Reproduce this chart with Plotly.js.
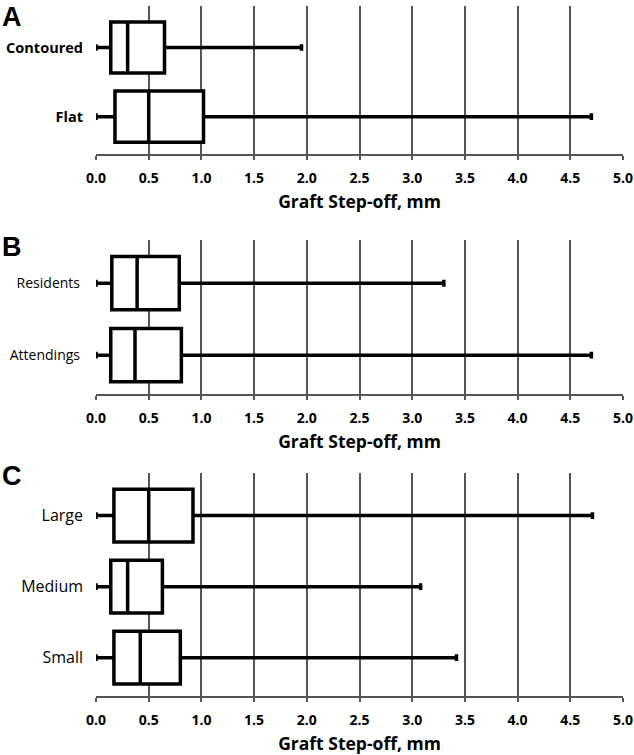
<!DOCTYPE html>
<html>
<head>
<meta charset="utf-8">
<script src="https://cdn.plot.ly/plotly-3.0.1.min.js"></script>
<style>
  html, body { margin: 0; padding: 0; background: #fff; }
  #chart { width: 634px; height: 755px; }
</style>
</head>
<body>
<div id="chart"></div>
<script>
// Graft step-off box plots, three panels (A: shape, B: surgeon, C: size)
var catsA = ['Contoured', 'Flat'];
var minA = [0.0, 0.0];
var q1A = [0.14, 0.18];
var medA = [0.30, 0.50];
var q3A = [0.65, 1.02];
var maxA = [1.95, 4.70];

var catsB = ['Residents', 'Attendings'];
var minB = [0.0, 0.0];
var q1B = [0.15, 0.14];
var medB = [0.39, 0.37];
var q3B = [0.79, 0.81];
var maxB = [3.30, 4.70];

var catsC = ['Large', 'Medium', 'Small'];
var minC = [0.0, 0.0, 0.0];
var q1C = [0.17, 0.14, 0.17];
var medC = [0.50, 0.30, 0.42];
var q3C = [0.92, 0.63, 0.80];
var maxC = [4.71, 3.08, 3.42];

var tickVals = [0, 0.5, 1, 1.5, 2, 2.5, 3, 3.5, 4, 4.5, 5];
var tickText = ['0.0', '0.5', '1.0', '1.5', '2.0', '2.5', '3.0', '3.5', '4.0', '4.5', '5.0'];

function boxTrace(cats, lo, q1, med, q3, hi, n) {
    return {
        type: 'box',
        orientation: 'h',
        y: cats,
        lowerfence: lo,
        q1: q1,
        median: med,
        q3: q3,
        upperfence: hi,
        xaxis: 'x' + n,
        yaxis: 'y' + n,
        width: 0.74,
        whiskerwidth: 0.13,
        fillcolor: 'white',
        line: { color: 'black', width: 3.5 },
        hoverinfo: 'skip',
        showlegend: false
    };
}

var data = [
    boxTrace(catsA, minA, q1A, medA, q3A, maxA, ''),
    boxTrace(catsB, minB, q1B, medB, q3B, maxB, '2'),
    boxTrace(catsC, minC, q1C, medC, q3C, maxC, '3')
];

function xAxis(anchor) {
    return {
        anchor: anchor,
        domain: [0, 1],
        range: [0, 5],
        tickvals: tickVals,
        ticktext: tickText,
        showgrid: true,
        gridcolor: '#555555',
        gridwidth: 2,
        zeroline: false,
        showline: true,
        linecolor: '#555555',
        linewidth: 2,
        ticks: 'outside',
        ticklen: 4,
        tickwidth: 2,
        tickcolor: '#555555',
        ticklabelstandoff: 6,
        tickfont: { family: 'Open Sans', size: 14, color: 'black', weight: 'bold' },
        title: {
            text: 'Graft Step-off, mm',
            font: { family: 'Open Sans', size: 17.5, color: 'black', weight: 'bold' },
            standoff: 10
        },
        fixedrange: true
    };
}

function yAxis(anchor, dom, n, fontSize, weight, gap) {
    return {
        anchor: anchor,
        domain: dom,
        type: 'category',
        range: [n - 1 + 0.54, -0.6],
        showgrid: false,
        zeroline: false,
        showline: false,
        ticks: '',
        ticklabelstandoff: gap,
        tickfont: { family: 'Open Sans', size: fontSize, color: 'black', weight: weight },
        fixedrange: true
    };
}

var layout = {
    width: 634,
    height: 755,
    margin: { l: 96, r: 11, t: 0, b: 0 },
    paper_bgcolor: 'white',
    plot_bgcolor: 'white',
    xaxis: xAxis('y'),
    yaxis: yAxis('x', [1 - 154 / 755, 1 - 6 / 755], catsA.length, 14.5, 'bold', 12),
    xaxis2: xAxis('y2'),
    yaxis2: yAxis('x2', [1 - 394 / 755, 1 - 240 / 755], catsB.length, 14, 'normal', 15),
    xaxis3: xAxis('y3'),
    yaxis3: yAxis('x3', [1 - 696 / 755, 1 - 473 / 755], catsC.length, 16, 'normal', 12),
    annotations: [
        { text: '<b>A</b>', x: 0, y: 1, xref: 'paper', yref: 'paper', xshift: -96, xanchor: 'left', yanchor: 'top',
          showarrow: false, font: { family: 'Liberation Sans', size: 27, color: 'black' } },
        { text: '<b>B</b>', x: 0, y: 1 - 230 / 755, xref: 'paper', yref: 'paper', xshift: -96, xanchor: 'left', yanchor: 'top',
          showarrow: false, font: { family: 'Liberation Sans', size: 27, color: 'black' } },
        { text: '<b>C</b>', x: 0, y: 1 - 459 / 755, xref: 'paper', yref: 'paper', xshift: -96, xanchor: 'left', yanchor: 'top',
          showarrow: false, font: { family: 'Liberation Sans', size: 27, color: 'black' } }
    ]
};

Plotly.newPlot('chart', data, layout, { displayModeBar: false, staticPlot: true });
</script>
</body>
</html>
